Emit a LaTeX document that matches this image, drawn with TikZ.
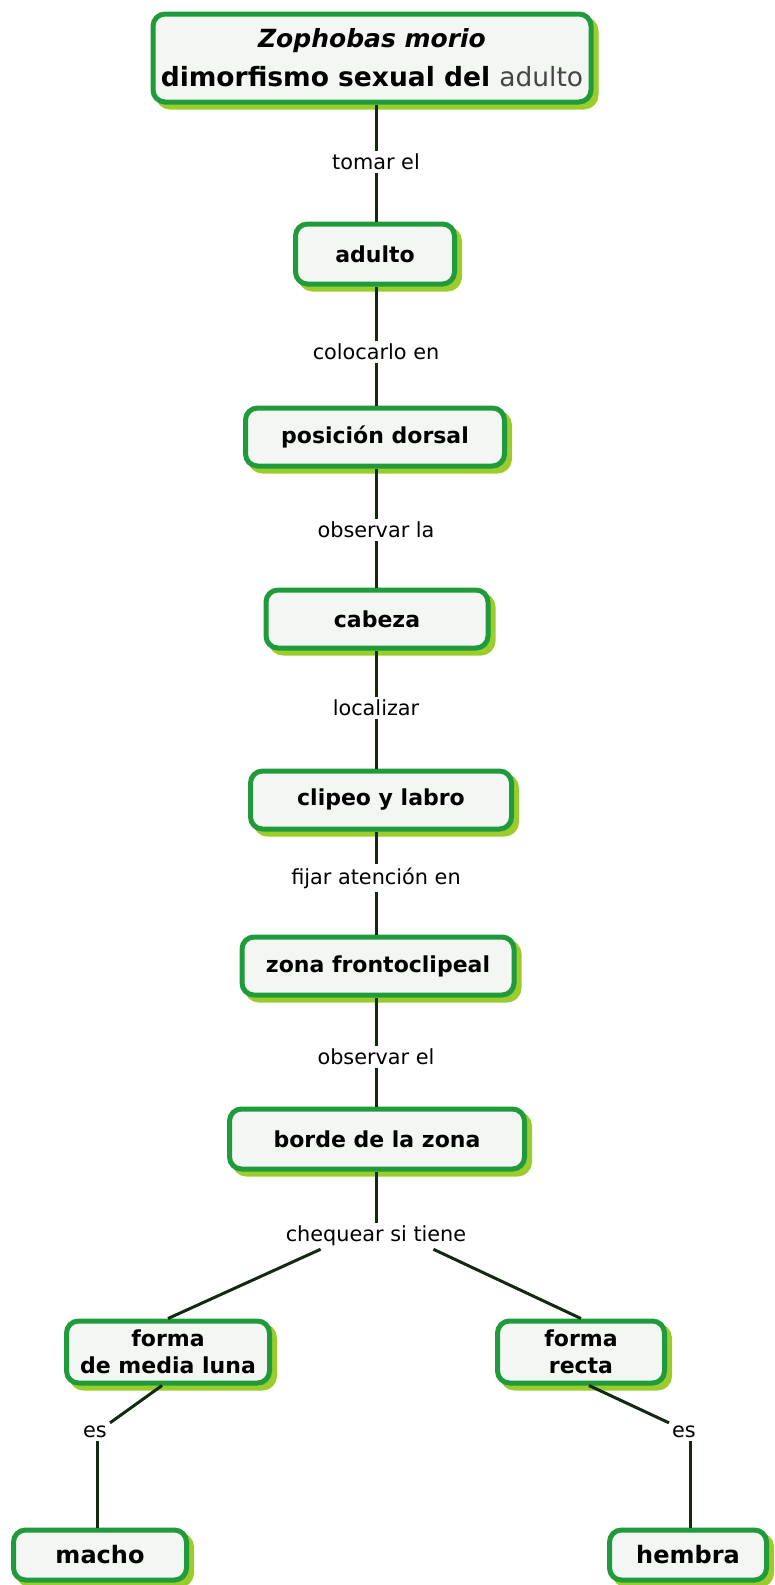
\documentclass[tikz,border=0pt]{standalone}
\usepackage{fontspec}
\setmainfont{DejaVu Sans}
\definecolor{bgreen}{HTML}{1F9B3B}
\definecolor{shlime}{HTML}{9CCC2C}
\definecolor{bfill}{HTML}{F4F6F4}
\definecolor{lnk}{HTML}{122A12}
\definecolor{tgrey}{HTML}{454545}
\tikzset{
  concept/.style={draw=bgreen, line width=5pt, rounded corners=12pt, fill=bfill,
    align=center, inner sep=2pt,
    font=\fontsize{22}{27}\selectfont\bfseries,
    preaction={draw=shlime, fill=shlime, transform canvas={xshift=5pt,yshift=-5pt}}},
  linkph/.style={fill=white, inner sep=3pt, font=\fontsize{20.8}{25}\selectfont},
  conn/.style={draw=lnk, line width=3pt}
}
\begin{document}
\begin{tikzpicture}[x=1pt,y=-1pt]
\useasboundingbox (0,0) rectangle (775,1585);
% concepts
\node[concept, minimum width=438pt, minimum height=88pt,
  font=\fontsize{26.5}{39}\selectfont\bfseries] (title) at (372,58)
  {{\fontsize{25}{39}\selectfont\textit{Zophobas morio}}\\dimorfismo sexual del \textcolor{tgrey}{\mdseries adulto}};
\node[concept, minimum width=159pt, minimum height=60pt] (adulto) at (375,254) {adulto};
\node[concept, minimum width=259pt, minimum height=58pt] (dorsal) at (375,437) {posición dorsal};
\node[concept, minimum width=222pt, minimum height=58pt] (cabeza) at (377,619) {cabeza};
\node[concept, minimum width=261pt, minimum height=58pt] (clipeo) at (381,800) {clipeo y labro};
\node[concept, minimum width=272pt, minimum height=58pt] (zona) at (378,966) {zona frontoclipeal};
\node[concept, minimum width=295pt, minimum height=60pt] (borde) at (377,1139) {borde de la zona};
\node[concept, minimum width=203pt, minimum height=62pt] (media) at (168,1352) {forma\\de media luna};
\node[concept, minimum width=167pt, minimum height=62pt] (recta) at (581,1352) {forma\\recta};
\node[concept, minimum width=173pt, minimum height=50pt, font=\fontsize{24}{28}\selectfont\bfseries] (macho) at (100,1555) {macho};
\node[concept, minimum width=157pt, minimum height=50pt, font=\fontsize{24}{28}\selectfont\bfseries] (hembra) at (688,1555) {hembra};
% linking phrases
\node[linkph] (l1) at (376,162) {tomar el};
\node[linkph] (l2) at (376,352) {colocarlo en};
\node[linkph] (l3) at (376,530) {observar la};
\node[linkph] (l4) at (376,708) {localizar};
\node[linkph] (l5) at (376,878) {fijar atención en};
\node[linkph] (l6) at (376,1057) {observar el};
\node[linkph] (l7) at (376,1236) {chequear si tiene};
\node[linkph] (l8) at (95,1432) {es};
\node[linkph] (l9) at (684,1432) {es};
% connectors
\draw[conn] (title.south -| l1) -- (l1);
\draw[conn] (l1) -- (l1 |- adulto.north);
\draw[conn] (adulto.south -| l2) -- (l2);
\draw[conn] (l2) -- (l2 |- dorsal.north);
\draw[conn] (dorsal.south -| l3) -- (l3);
\draw[conn] (l3) -- (l3 |- cabeza.north);
\draw[conn] (cabeza.south -| l4) -- (l4);
\draw[conn] (l4) -- (l4 |- clipeo.north);
\draw[conn] (clipeo.south -| l5) -- (l5);
\draw[conn] (l5) -- (l5 |- zona.north);
\draw[conn] (zona.south -| l6) -- (l6);
\draw[conn] (l6) -- (l6 |- borde.north);
\draw[conn] (borde.south -| l7) -- (l7);
\draw[conn] (l7.south west) ++(38,0) coordinate (c1) -- (media.north);
\draw[conn] (l7.south east) ++(-36,0) coordinate (c2) -- (recta.north);
\draw[conn] (media.south) ++(-6,0) coordinate (c5) -- (l8.north east);
\draw[conn] (l8.south) ++(2,0) coordinate (c6) -- (c6 |- macho.north);
\draw[conn] (recta.south) ++(8,0) coordinate (c3) -- (l9.north west);
\draw[conn] (l9.south) ++(6,0) coordinate (c4) -- (c4 |- hembra.north);
\end{tikzpicture}
\end{document}
